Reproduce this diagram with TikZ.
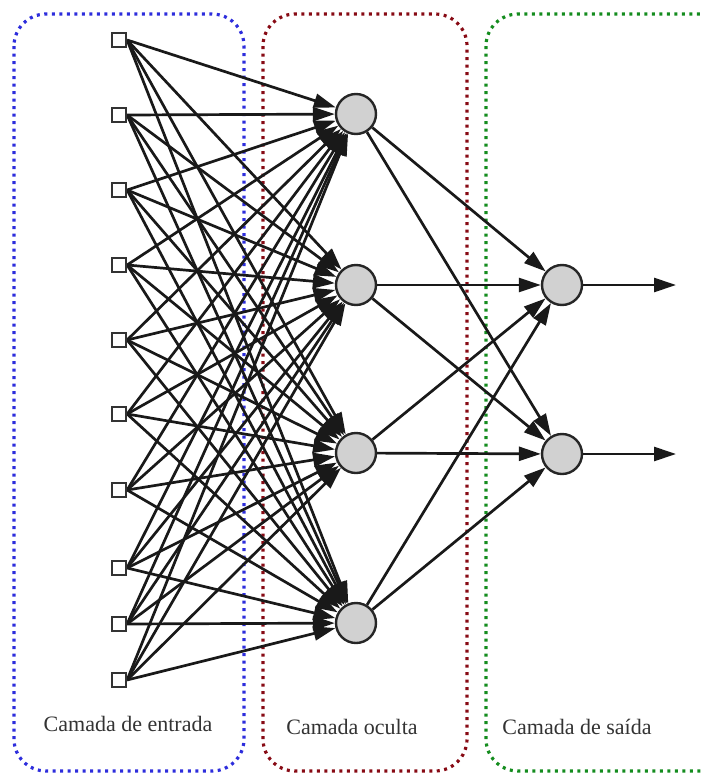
\documentclass[tikz,border=0pt]{standalone}
\usepackage{fontspec}
\setmainfont{Liberation Serif}
\usetikzlibrary{arrows.meta}
\definecolor{boxblue}{RGB}{45,45,220}
\definecolor{boxred}{RGB}{135,10,20}
\definecolor{boxgreen}{RGB}{20,140,30}
\begin{document}
\begin{tikzpicture}[x=1pt,y=-1pt,
 inp/.style={draw=black!80,line width=2.2pt,fill=white,minimum size=14pt,inner sep=0pt},
 neur/.style={circle,draw=black!85,line width=2.4pt,fill=black!18,minimum size=40pt,inner sep=0pt},
 conn/.style={line width=2.7pt,draw=black!90,-{Triangle[length=22pt,width=14pt]}},
 layerbox/.style={line width=3.2pt,dash pattern=on 3pt off 4.5pt,rounded corners=32pt},
 lbl/.style={font=\fontsize{22}{26}\selectfont,text=black!80}]
\clip (0,0) rectangle (704,774);
% layer boxes
\draw[layerbox,draw=boxblue] (14,14) rectangle (244,771);
\draw[layerbox,draw=boxred] (263,14) rectangle (467,771);
\draw[layerbox,draw=boxgreen] (486,14) rectangle (735,771);
% input nodes
\foreach \i/\y in {1/40,2/115,3/190,4/265,5/340,6/414,7/490,8/568,9/624,10/680}
  \node[inp] (i\i) at (119,\y) {};
% hidden nodes
\foreach \j/\y in {1/114,2/285,3/453,4/623}
  \node[neur] (h\j) at (356,\y) {};
% output nodes
\node[neur] (o1) at (562,285) {};
\node[neur] (o2) at (562,454) {};
\coordinate (e1) at (676,285);
\coordinate (e2) at (676,454);
% connections
\foreach \i in {1,...,10}
  \foreach \j in {1,...,4}
    \draw[conn] (i\i.east) -- (h\j);
\foreach \j in {1,...,4}
  \foreach \k in {1,2}
    \draw[conn] (h\j) -- (o\k);
\draw[conn] (o1) -- (e1);
\draw[conn] (o2) -- (e2);
% redraw input squares on top
\foreach \i/\y in {1/40,2/115,3/190,4/265,5/340,6/414,7/490,8/568,9/624,10/680}
  \node[inp] (j\i) at (119,\y) {};
% labels
\node[lbl] (l1) at (128,724) {Camada de entrada};
\node[lbl] (l2) at (352,727) {Camada oculta};
\node[lbl] (l3) at (577,727) {Camada de saída};
\end{tikzpicture}
\end{document}
